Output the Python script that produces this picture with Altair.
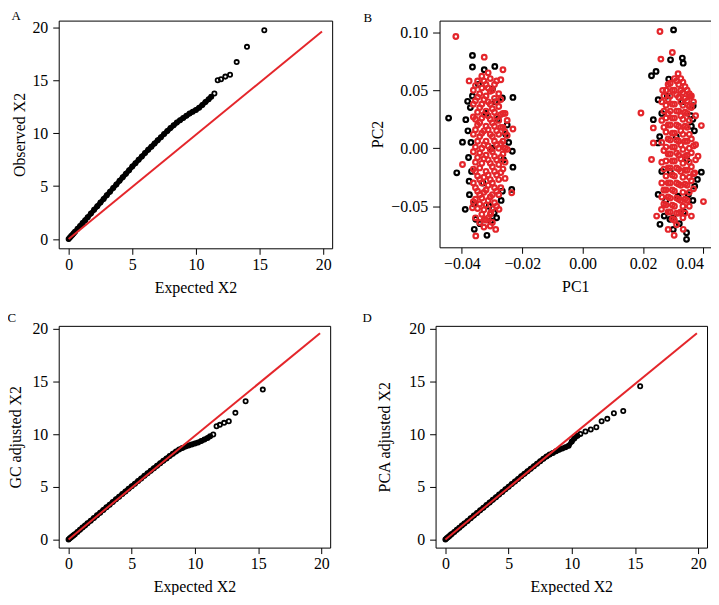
import altair as alt
import pandas as pd

FONT = "Liberation Serif"
RED = "#e4262b"

# ---------------- QQ panels (A, C, D) ----------------
exp_dense = [0, 0.1, 0.2, 0.3, 0.4, 0.5, 0.7, 0.9, 1.1, 1.3, 1.5, 1.75, 2.0, 2.25, 2.5, 2.75,
             3.0, 3.25, 3.5, 3.75, 4.0, 4.25, 4.5, 4.75, 5.0, 5.25, 5.5, 5.75, 6.0, 6.25, 6.5,
             6.75, 7.0, 7.25, 7.5, 7.75, 8.0, 8.25, 8.5, 8.75, 9.0, 9.25, 9.5, 9.75, 10.0,
             10.25, 10.5, 10.75, 11.0, 11.2]
exp_tail = [11.45, 11.71, 11.97, 12.31, 12.68, 13.20, 14.01, 15.37]

obs_a_dense = [0, 0.14, 0.28, 0.41, 0.55, 0.69, 0.97, 1.24, 1.52, 1.79, 2.07, 2.41, 2.76, 3.1,
               3.45, 3.79, 4.14, 4.48, 4.82, 5.16, 5.5, 5.84, 6.17, 6.5, 6.85, 7.17, 7.48, 7.8,
               8.12, 8.43, 8.73, 9.03, 9.33, 9.62, 9.92, 10.2, 10.48, 10.74, 11.0, 11.22, 11.44,
               11.65, 11.85, 12.03, 12.2, 12.4, 12.65, 12.95, 13.2, 13.45]
obs_a_tail = [13.74, 14.99, 15.09, 15.34, 15.52, 16.71, 18.15, 19.72]

obs_c_dense = [0, 0.1, 0.2, 0.3, 0.4, 0.5, 0.71, 0.91, 1.12, 1.32, 1.53, 1.78, 2.03, 2.29, 2.54,
               2.8, 3.05, 3.3, 3.56, 3.81, 4.06, 4.31, 4.56, 4.81, 5.06, 5.3, 5.55, 5.8, 6.04,
               6.28, 6.52, 6.76, 7.0, 7.24, 7.47, 7.7, 7.93, 8.15, 8.35, 8.55, 8.7, 8.82, 8.93,
               9.03, 9.12, 9.22, 9.35, 9.5, 9.65, 9.8]
obs_c_tail = [9.97, 10.76, 10.89, 11.08, 11.23, 12.03, 13.13, 14.24]

exp_d_dense = [0, 0.1, 0.2, 0.3, 0.4, 0.5, 0.7, 0.9, 1.1, 1.3, 1.5, 1.75, 2.0, 2.25, 2.5, 2.75,
               3.0, 3.25, 3.5, 3.75, 4.0, 4.25, 4.5, 4.75, 5.0, 5.25, 5.5, 5.75, 6.0, 6.25, 6.5,
               6.75, 7.0, 7.25, 7.5, 7.75, 8.0, 8.25, 8.5, 8.75, 9.0, 9.25, 9.5, 9.75, 10.0,
               10.2, 10.45]
obs_d_dense = [0, 0.1, 0.2, 0.3, 0.41, 0.51, 0.71, 0.91, 1.11, 1.31, 1.51, 1.76, 2.01, 2.26,
               2.51, 2.76, 3.01, 3.26, 3.51, 3.76, 4.01, 4.26, 4.51, 4.76, 5.01, 5.26, 5.5,
               5.75, 6.0, 6.24, 6.48, 6.72, 6.96, 7.2, 7.43, 7.66, 7.88, 8.06, 8.22, 8.38, 8.52,
               8.64, 8.76, 8.9, 9.3, 9.6, 9.85]
exp_d_tail = [10.68, 11.08, 11.50, 11.94, 12.36, 12.81, 13.33, 14.07, 15.41]
obs_d_tail = [10.03, 10.25, 10.44, 10.66, 11.23, 11.46, 11.99, 12.2, 14.56]

ref_x = [0, 19.9]
ref_y = [0, 19.6]

QQ_TICKS = [0, 5, 10, 15, 20]


def panel_title(letter, dx):
    return alt.TitleParams(letter, anchor="start", fontSize=13, font=FONT,
                           fontWeight="normal", offset=-4, color="black", dx=dx)


def qq_panel(exp_d, obs_d, exp_t, obs_t, letter, ytitle, width, height, ydom, ytitle_pad, dx):
    band = pd.DataFrame({"x": exp_d, "y": obs_d})
    pts = pd.DataFrame({"x": exp_d + exp_t, "y": obs_d + obs_t})
    ref = pd.DataFrame({"x": ref_x, "y": ref_y})
    xs = alt.Scale(domain=[-0.78, 20.7], nice=False, zero=False)
    ys = alt.Scale(domain=ydom, nice=False, zero=False)
    xax = alt.Axis(values=QQ_TICKS, title="Expected X2", labelPadding=2, titlePadding=7)
    yax = alt.Axis(values=QQ_TICKS, title=ytitle, labelPadding=5, titlePadding=ytitle_pad)
    enc = dict(x=alt.X("x:Q", scale=xs, axis=xax), y=alt.Y("y:Q", scale=ys, axis=yax))
    b = alt.Chart(band).mark_line(color="black", strokeWidth=5, strokeCap="round",
                                  strokeJoin="round").encode(**enc)
    p = alt.Chart(pts).mark_point(shape="circle", filled=False, color="black", size=18,
                                  strokeWidth=1.8, opacity=1).encode(**enc)
    l = alt.Chart(ref).mark_line(color=RED, strokeWidth=2).encode(**enc)
    return alt.layer(b, p, l).properties(width=width, height=height,
                                         title=panel_title(letter, dx))


panel_a = qq_panel(exp_dense, obs_a_dense, exp_tail, obs_a_tail, "A", "Observed X2",
                   275, 229, [-0.87, 20.63], 4.5, 0)
panel_c = qq_panel(exp_dense, obs_c_dense, exp_tail, obs_c_tail, "C", "GC adjusted X2",
                   273, 223, [-0.78, 20.3], 8.5, 0)
panel_d = qq_panel(exp_d_dense, obs_d_dense, exp_d_tail, obs_d_tail, "D", "PCA adjusted X2",
                   273, 223, [-0.78, 20.3], 16.5, -14)

# ---------------- PCA panel (B) ----------------
black_pc1 = [-0.0444, -0.0365, -0.0365, -0.0326, -0.0291, -0.0231, -0.0266, -0.0398, -0.0417,
             -0.0233, -0.0231, -0.0235, -0.0266, -0.0389, -0.0359, -0.0317, -0.0354, -0.0376,
             -0.0387, -0.0381, -0.0299, -0.0293, -0.0304,
             -0.0365, -0.0372, -0.0380, -0.0370, -0.0378, -0.0368, -0.0375, -0.0360, -0.0345,
             -0.0250, -0.0255, -0.0245, -0.0262, -0.0270, -0.0285, -0.0340, -0.0320, -0.0300,
             -0.0330, -0.0290, -0.0310, -0.0280,
             0.0301, 0.0330, 0.0291, 0.0333, 0.0243, 0.0228, 0.0285, 0.0366, 0.0250, 0.0234,
             0.0393, 0.0380, 0.0250, 0.0256, 0.0270, 0.0289, 0.0344, 0.0344, 0.0371, 0.0360,
             0.0316, 0.0250,
             0.0365, 0.0358, 0.0370, 0.0262, 0.0255, 0.0262, 0.0275, 0.0300, 0.0320, 0.0335,
             0.0350, 0.0310, 0.0290, 0.0330, 0.0280, 0.0345, 0.0365, 0.0300]
black_pc2 = [0.026, 0.080, 0.070, 0.0676, 0.0705, 0.0438, 0.0433, 0.0052, -0.0212,
             -0.0026, -0.0163, -0.0355, -0.0370, -0.0527, -0.0699, -0.0751, -0.0613, -0.0284,
             0.0246, 0.0404, 0.051, -0.0556, -0.0627,
             0.045, 0.035, 0.015, 0.005, -0.008, -0.020, -0.040, -0.048, 0.055,
             0.020, 0.012, 0.005, -0.010, -0.045, -0.060, -0.065, 0.030, 0.000,
             -0.030, 0.040, -0.050, 0.025,
             0.102, 0.0777, 0.0762, 0.0733, 0.0662, 0.0625, 0.0596, 0.0367, 0.0418, 0.0246,
             -0.0206, -0.0269, -0.0398, -0.0656, -0.0585, -0.0613, -0.0785, -0.0728, -0.0327,
             0.0189, -0.0413, 0.0046,
             0.025, 0.028, 0.015, 0.030, 0.010, -0.020, -0.045, -0.060, -0.065, -0.055,
             -0.040, 0.010, -0.020, 0.040, 0.045, -0.010, -0.045, -0.070]

red_pc1 = [-0.0420, -0.0326, -0.0264, -0.0271, -0.0376, -0.0231, -0.0235, -0.0398, -0.0365,
           -0.0354, -0.0288, -0.0326, -0.0277, -0.0304,
           -0.0362, -0.0362, -0.0362, -0.0362, -0.0362, -0.0362, -0.0362, -0.0362,
           -0.0348, -0.0348, -0.0348, -0.0348, -0.0348, -0.0348, -0.0348, -0.0348, -0.0348,
           -0.0334, -0.0334, -0.0334, -0.0334, -0.0334, -0.0334, -0.0334, -0.0334, -0.0334, -0.0334,
           -0.0320, -0.0320, -0.0320, -0.0320, -0.0320, -0.0320, -0.0320, -0.0320, -0.0320, -0.0320,
           -0.0306, -0.0306, -0.0306, -0.0306, -0.0306, -0.0306, -0.0306, -0.0306, -0.0306, -0.0306,
           -0.0306,
           -0.0292, -0.0292, -0.0292, -0.0292, -0.0292, -0.0292, -0.0292, -0.0292, -0.0292,
           -0.0278, -0.0278, -0.0278, -0.0278, -0.0278, -0.0278, -0.0278, -0.0278,
           -0.0264, -0.0264, -0.0264, -0.0264, -0.0264,
           -0.0250, -0.0250, -0.0250,
           0.0256, 0.0297, 0.0259, 0.0316, 0.0193, 0.0393, 0.0265, 0.0355, 0.0234, 0.0234,
           0.0382, 0.0400, 0.0283, 0.0303, 0.0333, 0.0261, 0.0245, 0.0360, 0.0371, 0.0228,
           0.0262, 0.0262, 0.0262, 0.0262, 0.0262, 0.0262,
           0.0276, 0.0276, 0.0276, 0.0276, 0.0276, 0.0276, 0.0276, 0.0276, 0.0276,
           0.0290, 0.0290, 0.0290, 0.0290, 0.0290, 0.0290, 0.0290, 0.0290, 0.0290, 0.0290,
           0.0304, 0.0304, 0.0304, 0.0304, 0.0304, 0.0304, 0.0304, 0.0304, 0.0304, 0.0304, 0.0304,
           0.0318, 0.0318, 0.0318, 0.0318, 0.0318, 0.0318, 0.0318, 0.0318, 0.0318, 0.0318,
           0.0332, 0.0332, 0.0332, 0.0332, 0.0332, 0.0332, 0.0332, 0.0332, 0.0332, 0.0332, 0.0332,
           0.0346, 0.0346, 0.0346, 0.0346, 0.0346, 0.0346, 0.0346, 0.0346, 0.0346,
           0.0360, 0.0360, 0.0360, 0.0360, 0.0360, 0.0360,
           0.0374, 0.0374, 0.0374]
red_pc2 = [0.0963, 0.0785, 0.0676, 0.059, 0.058, 0.0166, -0.0384, -0.014, -0.0513,
           -0.0756, -0.070, -0.0613, -0.0527, -0.0556,
           0.050, 0.038, 0.027, 0.012, -0.003, -0.018, -0.030, -0.046,
           0.058, 0.044, 0.031, 0.020, 0.006, -0.008, -0.024, -0.037, -0.052,
           0.062, 0.052, 0.038, 0.026, 0.013, 0.000, -0.013, -0.030, -0.043, -0.057,
           0.055, 0.045, 0.032, 0.019, 0.006, -0.006, -0.020, -0.036, -0.049, -0.062,
           0.060, 0.049, 0.038, 0.025, 0.012, -0.001, -0.013, -0.027, -0.042, -0.057,
           -0.067,
           0.055, 0.043, 0.031, 0.019, 0.006, -0.007, -0.020, -0.034, -0.047,
           0.047, 0.036, 0.024, 0.012, 0.000, -0.014, -0.027, -0.040,
           0.030, 0.018, 0.006, -0.005, -0.018,
           0.024, 0.011, -0.001,
           0.1006, 0.0825, 0.0768, 0.0642, 0.0304, 0.0195, 0.0499, 0.0447, 0.0175, 0.0046,
           -0.0069, -0.0460, -0.070, -0.0751, -0.0699, -0.0527, -0.0585, -0.0585, -0.0212, -0.0097,
           0.040, 0.024, 0.005, -0.012, -0.030, -0.042,
           0.050, 0.037, 0.026, 0.014, 0.001, -0.011, -0.024, -0.036, -0.049,
           0.056, 0.045, 0.032, 0.020, 0.007, -0.005, -0.017, -0.030, -0.043, -0.055,
           0.060, 0.050, 0.038, 0.026, 0.013, 0.001, -0.011, -0.024, -0.037, -0.050, -0.062,
           0.055, 0.044, 0.032, 0.019, 0.006, -0.006, -0.018, -0.031, -0.044, -0.056,
           0.057, 0.048, 0.037, 0.025, 0.012, -0.001, -0.013, -0.025, -0.038, -0.050, -0.060,
           0.050, 0.041, 0.030, 0.018, 0.006, -0.006, -0.019, -0.032, -0.045,
           0.045, 0.035, 0.008, -0.004, -0.016, -0.028,
           0.028, 0.003, -0.010]

# additional red points filling the dense cores of both clusters
red2_pc1 = [-0.0355] * 10 + [-0.0341] * 10 + [-0.0327] * 10 + [-0.0313] * 11 + [-0.0299] * 10 \
    + [-0.0285] * 9 + [-0.0271] * 7 + [-0.0257] * 5 \
    + [0.0269] * 7 + [0.0283] * 10 + [0.0297] * 10 + [0.0311] * 11 + [0.0325] * 11 \
    + [0.0339] * 10 + [0.0353] * 9 + [0.0367] * 4
red2_pc2 = [0.054, 0.041, 0.025, 0.016, 0.001, -0.012, -0.020, -0.034, -0.044, -0.060,
            0.047, 0.035, 0.022, 0.010, -0.004, -0.017, -0.027, -0.040, -0.048, -0.064,
            0.058, 0.042, 0.029, 0.015, 0.003, -0.009, -0.025, -0.038, -0.053, -0.068,
            0.065, 0.052, 0.040, 0.028, 0.016, 0.002, -0.010, -0.023, -0.032, -0.045, -0.060,
            0.050, 0.034, 0.022, 0.010, -0.003, -0.016, -0.030, -0.040, -0.052, -0.064,
            0.058, 0.040, 0.027, 0.015, 0.003, -0.010, -0.023, -0.037, -0.050,
            0.042, 0.029, 0.018, 0.004, -0.008, -0.021, -0.034,
            0.030, 0.014, 0.000, -0.012, -0.026,
            0.045, 0.032, 0.018, -0.002, -0.018, -0.036, -0.048,
            0.055, 0.042, 0.030, 0.020, 0.008, -0.005, -0.017, -0.030, -0.042, -0.055,
            0.050, 0.038, 0.026, 0.013, 0.001, -0.011, -0.023, -0.036, -0.049, -0.061,
            0.058, 0.046, 0.032, 0.020, 0.007, -0.004, -0.017, -0.030, -0.043, -0.056, -0.066,
            0.060, 0.050, 0.040, 0.028, 0.015, 0.003, -0.009, -0.020, -0.032, -0.045, -0.055,
            0.053, 0.043, 0.031, 0.019, 0.006, -0.007, -0.019, -0.031, -0.044, -0.056,
            0.047, 0.036, 0.024, 0.012, 0.000, -0.012, -0.025, -0.038, -0.050,
            0.040, 0.002, -0.022, -0.035]

bx = alt.Scale(domain=[-0.0474, 0.0425], nice=False, zero=False)
by = alt.Scale(domain=[-0.0854, 0.110], nice=False, zero=False)
bxax = alt.Axis(values=[-0.04, -0.02, 0.0, 0.02, 0.04], format=".2f", title="PC1",
                labelPadding=2, titlePadding=7,
                labelAlign={"condition": {"test": "datum.value > 0.03", "value": "right"},
                            "value": "center"})
byax = alt.Axis(values=[-0.05, 0.0, 0.05, 0.10], format=".2f", title="PC2",
                labelPadding=5, titlePadding=5.5, tickSize=7)
benc = dict(x=alt.X("pc1:Q", scale=bx, axis=bxax), y=alt.Y("pc2:Q", scale=by, axis=byax))

b_black = alt.Chart(pd.DataFrame({"pc1": black_pc1, "pc2": black_pc2})).mark_point(
    shape="circle", filled=False, color="black", size=22, strokeWidth=2.2, opacity=1).encode(**benc)
b_red = alt.Chart(pd.DataFrame({"pc1": red_pc1 + red2_pc1, "pc2": red_pc2 + red2_pc2})).mark_point(
    shape="circle", filled=False, color=RED, size=22, strokeWidth=2.2, opacity=1).encode(**benc)
panel_b = alt.layer(b_black, b_red).properties(width=273, height=228,
                                               title=panel_title("B", -6))

row1 = alt.hconcat(panel_a, panel_b, spacing=29)
row2 = alt.hconcat(panel_c, panel_d, spacing=31)

chart = alt.vconcat(row1, row2, spacing=15).properties(
    padding={"left": -1, "top": 0, "right": -1, "bottom": -2}
).configure_view(stroke="black", strokeWidth=1).configure_axis(
    domain=False, grid=False, ticks=True, tickColor="black", tickSize=6, tickWidth=1,
    labelFont=FONT, labelFontSize=16, labelColor="black",
    titleFont=FONT, titleFontSize=16, titleFontWeight="normal", titleColor="black"
)

chart.save("out.html", embed_options={"renderer": "svg", "actions": False})
